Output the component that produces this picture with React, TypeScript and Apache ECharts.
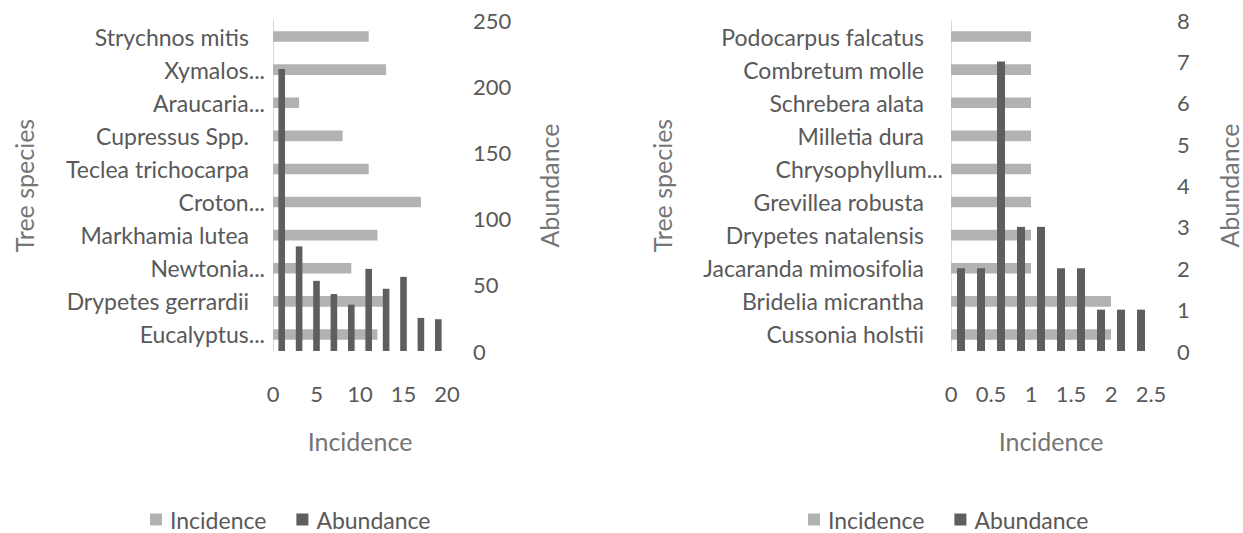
import React, { useEffect, useRef } from "react";
import * as echarts from "echarts";

// Left panel (bottom to top)
const leftSpecies = [
  "Eucalyptus...",
  "Drypetes gerrardii",
  "Newtonia...",
  "Markhamia lutea",
  "Croton...",
  "Teclea trichocarpa",
  "Cupressus Spp.",
  "Araucaria...",
  "Xymalos...",
  "Strychnos mitis",
];
const leftIncidence = [12, 13, 9, 12, 17, 11, 8, 3, 13, 11];
const leftAbundance = [213, 79, 53, 43, 35, 62, 47, 56, 25, 24];

// Right panel (bottom to top)
const rightSpecies = [
  "Cussonia holstii",
  "Bridelia micrantha",
  "Jacaranda mimosifolia",
  "Drypetes natalensis",
  "Grevillea robusta",
  "Chrysophyllum...",
  "Milletia dura",
  "Schrebera alata",
  "Combretum molle",
  "Podocarpus falcatus",
];
const rightIncidence = [2, 2, 1, 1, 1, 1, 1, 1, 1, 1];
const rightAbundance = [2, 2, 7, 3, 3, 2, 2, 1, 1, 1];

const FONT = "Lato";
const LABEL = "#595959";
const NAME = "#757575";
const LIGHT = "#b2b2b2";
const DARK = "#5e5e5e";

function speciesLabel(pad: number) {
  return {
    margin: 8,
    formatter: (v: string) => (v.endsWith("...") ? `{t|${v}}` : `{n|${v}}`),
    rich: {
      t: { fontSize: 23, color: LABEL, fontFamily: FONT },
      n: { fontSize: 23, color: LABEL, fontFamily: FONT, padding: [0, pad, 0, 0] },
    },
  };
}

const tickLabel = { fontSize: 22, color: LABEL, fontFamily: FONT };
const nameStyle = { fontSize: 25, color: NAME, fontFamily: FONT };

export default function App() {
  const ref = useRef<HTMLDivElement>(null);
  useEffect(() => {
    document.body.style.margin = "0";
    const chart = echarts.init(ref.current!, undefined, { renderer: "svg" });
    const grids = [
      { left: 273, top: 20, width: 174, height: 331, outerBoundsMode: "none" },
      { left: 951, top: 20, width: 200, height: 331, outerBoundsMode: "none" },
    ];
    const valueX = (gi: number, max: number, interval: number) => ({
      gridIndex: gi,
      type: "value",
      min: 0,
      max,
      interval,
      position: "bottom",
      axisLine: { show: false },
      axisTick: { show: false },
      splitLine: { show: false },
      axisLabel: { ...tickLabel, margin: 31 },
      name: "Incidence",
      nameLocation: "middle",
      nameGap: 77,
      nameTextStyle: nameStyle,
    });
    const catX = (gi: number, data: string[]) => ({
      gridIndex: gi,
      type: "category",
      data,
      show: false,
    });
    const catY = (gi: number, data: string[], pad: number, gap: number) => ({
      gridIndex: gi,
      type: "category",
      data,
      axisLine: { show: true, lineStyle: { color: "#d9d9d9", width: 1 } },
      axisTick: { show: false },
      axisLabel: speciesLabel(pad),
      name: "Tree species",
      nameLocation: "middle",
      nameGap: gap,
      nameRotate: 90,
      nameTextStyle: nameStyle,
    });
    const valY = (gi: number, max: number, interval: number, gap: number) => ({
      gridIndex: gi,
      type: "value",
      position: "right",
      min: 0,
      max,
      interval,
      axisLine: { show: false },
      axisTick: { show: false },
      splitLine: { show: false },
      axisLabel: { ...tickLabel, margin: 26 },
      name: "Abundance",
      nameLocation: "middle",
      nameGap: gap,
      nameRotate: 90,
      nameTextStyle: nameStyle,
    });
    const legend = (left: number) => ({
      left,
      top: 508,
      padding: 0,
      itemWidth: 12,
      itemHeight: 12,
      itemGap: 30,
      icon: "rect",
      textStyle: { fontSize: 23, color: LABEL, fontFamily: FONT, padding: [0, 0, 0, 3] },
      data: ["Incidence", "Abundance"],
    });
    chart.setOption({
      animation: false,
      grid: grids,
      legend: [legend(150), legend(808)],
      xAxis: [valueX(0, 20, 5), catX(0, leftSpecies), valueX(1, 2.5, 0.5), catX(1, rightSpecies)],
      yAxis: [
        catY(0, leftSpecies, 16, 237),
        valY(0, 250, 50, 89),
        catY(1, rightSpecies, 19, 277),
        valY(1, 8, 1, 65),
      ],
      series: [
        {
          type: "bar",
          name: "Incidence",
          xAxisIndex: 0,
          yAxisIndex: 0,
          data: leftIncidence,
          barWidth: "32%",
          itemStyle: { color: LIGHT },
        },
        {
          type: "bar",
          name: "Abundance",
          xAxisIndex: 1,
          yAxisIndex: 1,
          data: leftAbundance,
          barWidth: "38%",
          itemStyle: { color: DARK },
        },
        {
          type: "bar",
          name: "Incidence",
          xAxisIndex: 2,
          yAxisIndex: 2,
          data: rightIncidence,
          barWidth: "32%",
          itemStyle: { color: LIGHT },
        },
        {
          type: "bar",
          name: "Abundance",
          xAxisIndex: 3,
          yAxisIndex: 3,
          data: rightAbundance,
          barWidth: "40%",
          itemStyle: { color: DARK },
        },
      ],
    });
    return () => chart.dispose();
  }, []);
  return <div ref={ref} style={{ width: 1243, height: 533 }} />;
}
